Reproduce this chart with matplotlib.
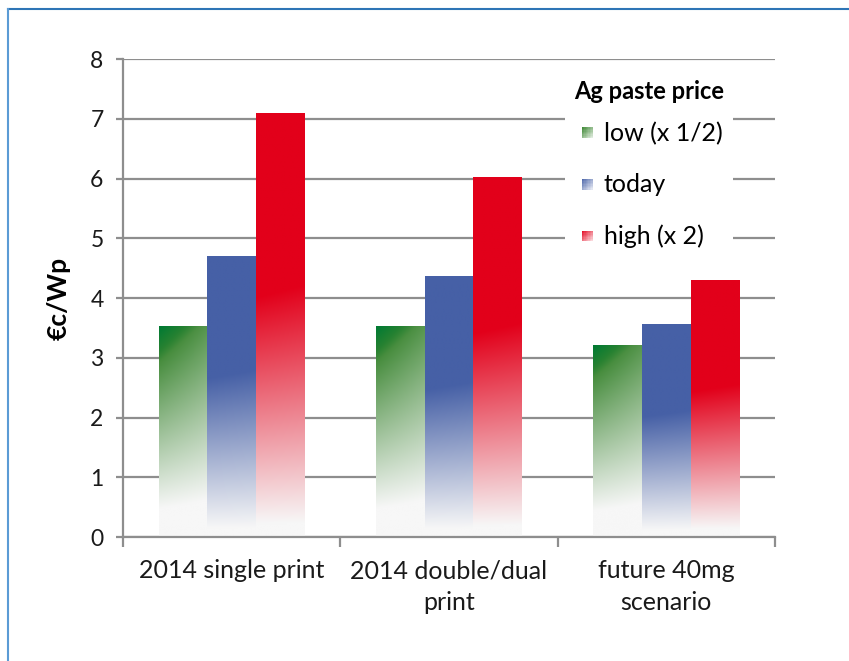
import numpy as np
import matplotlib
matplotlib.use("Agg")
import matplotlib.pyplot as plt
from matplotlib.colors import to_rgb
from matplotlib.patches import Rectangle
from matplotlib.legend_handler import HandlerBase
from matplotlib.lines import Line2D

categories = ["2014 single print", "2014 double/dual\nprint", "future 40mg\nscenario"]
series_names = ["low (x 1/2)", "today", "high (x 2)"]
low_vals = [3.52, 3.52, 3.20]
today_vals = [4.70, 4.36, 3.55]
high_vals = [7.08, 6.01, 4.30]
y_ticks = [0, 1, 2, 3, 4, 5, 6, 7, 8]

colors = ["#3a8530", "#4660a6", "#e2001a"]
solid_frac = [0.0, 0.42, 0.42]   # fraction of bar (from top) that stays solid
fade_end = [0.85, 0.97, 0.97]

plt.rcParams['font.family'] = ['Lato', 'DejaVu Sans']
GRID = "#8e8e8e"

fig = plt.figure(figsize=(8.49, 6.61), dpi=100)
ax = fig.add_axes([123/849, 1-537/661, (775-123)/849, (537-59)/661])

def grad_img(color, s0, s1, diag=0.0, n=200, m=20, dark_corner=None):
    c = np.array(to_rgb(color))
    w = np.array(to_rgb("#f7f7f7"))
    t = np.linspace(0, 1, n)[:, None]  # 0 top, 1 bottom
    xx = np.linspace(0, 1, m)[None, :]
    tt = t + diag * (xx - 0.5) * (1 - t)
    f = np.clip((tt - s0) / (s1 - s0), 0, 1)
    img = c[None, None, :] * (1 - f[..., None]) + w[None, None, :] * f[..., None]
    if dark_corner is not None:
        d = np.array(to_rgb(dark_corner))
        k = np.clip(1 - (t * 6 + xx * 1.2), 0, 1)[..., None]
        img = img * (1 - k) + d[None, None, :] * k
    return img

x = np.arange(len(categories))
bw = 0.224
all_vals = [low_vals, today_vals, high_vals]
for i, vals in enumerate(all_vals):
    bars = ax.bar(x + (i - 1) * bw, vals, bw, color="none", edgecolor="none", zorder=2)
    for r in bars:
        x0 = r.get_x(); x1 = x0 + r.get_width(); h = r.get_height()
        img = grad_img(colors[i], solid_frac[i], fade_end[i], diag=0.25 if i == 0 else 0.05,
                       dark_corner="#007a33" if i == 0 else None)
        ax.imshow(img, extent=(x0, x1, 0, h), aspect='auto', origin='upper',
                  zorder=2, interpolation='bilinear')

ax.set_xlim(-0.5, 2.5)
ax.set_ylim(0, 8)
ax.set_yticks(y_ticks)
ax.yaxis.grid(True, color=GRID, linewidth=1.6)
ax.set_axisbelow(True)
for s in ["top", "right"]:
    ax.spines[s].set_visible(False)
for s in ["left", "bottom"]:
    ax.spines[s].set_color(GRID)
    ax.spines[s].set_linewidth(1.6)
ax.tick_params(axis='y', length=5, width=1.6, color=GRID, labelsize=16.5, pad=9, labelcolor="#1a1a1a")
ax.set_xticks(x)
ax.set_xticklabels(categories, fontsize=18, color="#1a1a1a", linespacing=1.45)
ax.tick_params(axis='x', which='major', length=0, pad=16)
ax.set_xticks([-0.5, 0.5, 1.5, 2.5], minor=True)
ax.tick_params(axis='x', which='minor', length=7, width=1.6, color=GRID)
ax.set_ylabel("€c/Wp", fontsize=19, fontweight='bold', labelpad=14)


class GradHandler(HandlerBase):
    def __init__(self, color):
        super().__init__()
        self.color = color

    def create_artists(self, legend, orig_handle, xdescent, ydescent, width, height, fontsize, trans):
        arts = []
        size = height * 0.62
        x0 = -xdescent + width - size
        y0 = -ydescent + (height - size) / 2 - height * 0.05
        n = 8
        c = np.array(to_rgb(self.color)); w = np.ones(3)
        for a in range(n):
            for b in range(n):
                f = np.clip(((a + 0.5) / n + (n - b - 0.5) / n) / 2 * 0.9, 0, 1)
                col = c * (1 - f) + w * f
                arts.append(Rectangle((x0 + a * size / n, y0 + b * size / n), size / n, size / n,
                                      facecolor=col, edgecolor='none', transform=trans))
        return arts

proxies = [Rectangle((0, 0), 1, 1, label=n) for n in series_names]
leg = ax.legend(proxies, series_names,
                handler_map={p: GradHandler(c) for p, c in zip(proxies, colors)},
                title="Ag paste price", loc='upper left',
                bbox_to_anchor=((565-123)/652, (537-71)/478),
                frameon=True, fontsize=18, title_fontproperties={'weight': 'bold', 'size': 17},
                labelspacing=1.13, handlelength=0.75, handletextpad=0.45,
                borderpad=0.35, borderaxespad=0)
leg.get_frame().set_facecolor("white")
leg.get_frame().set_edgecolor("none")
leg.get_frame().set_alpha(1)
leg.set_zorder(5)
leg._legend_box.sep = 13.5
leg._legend_box.align = "left"

# outer frame (light blue lines at top and left)
FRAME = "#5b9bd5"
fig.add_artist(Line2D([8/849, 1], [1-9/661, 1-9/661], color="#2e75b6", linewidth=1.5, transform=fig.transFigure))
fig.add_artist(Line2D([8/849, 8/849], [0, 1-9/661], color=FRAME, linewidth=1.5, transform=fig.transFigure))

fig.savefig("out.png", dpi=100, facecolor="white")
